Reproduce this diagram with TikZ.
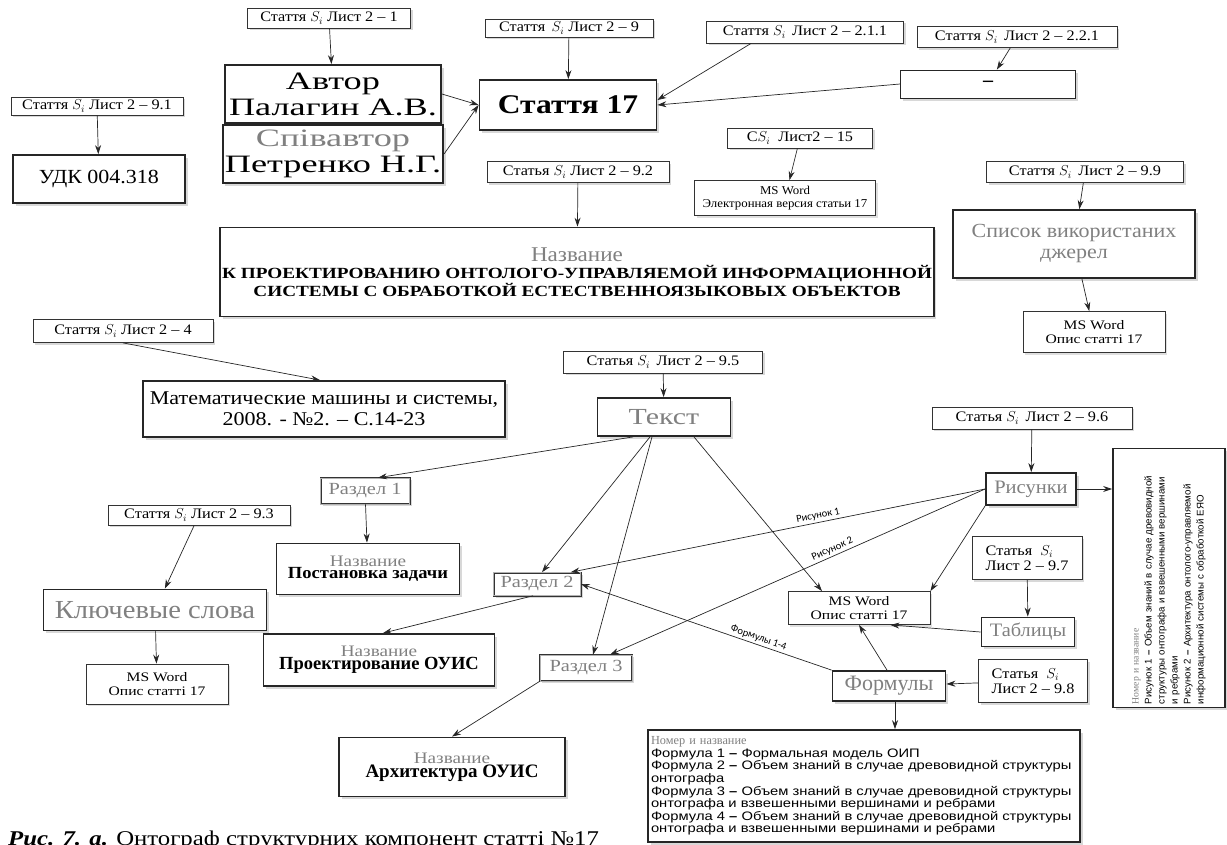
\documentclass[tikz,border=0pt]{standalone}
\usepackage{fontspec}
\setmainfont{Liberation Serif}
\newfontfamily\arialf[FakeStretch=1.2]{Liberation Sans}
\newfontfamily\arialn{Liberation Sans}
\newfontfamily\calibf{Carlito}
\usetikzlibrary{arrows.meta,shadows}
\definecolor{gtxt}{gray}{0.5}
\newcommand{\wide}[1]{\addfontfeature{FakeStretch=#1}}

\begin{document}
\begin{tikzpicture}[x=1pt,y=-1pt,
  box/.style={draw=black!85,line width=1.8pt,fill=white,inner sep=2pt,align=center,
    drop shadow={shadow xshift=2.5pt,shadow yshift=-2.5pt,fill=black!30}},
  ref/.style={draw=black!80,line width=0.8pt,fill=white,
    inner sep=1pt,align=center,font=\fontsize{14.5}{15.5}\selectfont\wide{1.12},
    drop shadow={shadow xshift=2pt,shadow yshift=-2pt,fill=black!30}},
  sect/.style={draw=black!80,line width=0.6pt,double=black!30,double distance=0.8pt,fill=white,
    text=gtxt,inner sep=1pt,font=\fontsize{17}{18}\selectfont\wide{1.2},
    drop shadow={shadow xshift=2pt,shadow yshift=-2pt,fill=black!30}},
  doc/.style={draw=black!80,line width=0.8pt,fill=white,align=center,inner sep=1pt,
    font=\fontsize{13}{14}\selectfont\wide{1.2},
    drop shadow={shadow xshift=2pt,shadow yshift=-2pt,fill=black!25}},
  con/.style={->,>={Stealth[length=9pt,width=6pt]},draw=black!85,line width=0.7pt},
  lbl/.style={font=\calibf\fontsize{10.5}{12}\selectfont,sloped,above,inner sep=2pt}]
\useasboundingbox (0,0) rectangle (1227,844);

% references
\node[ref,minimum width=163pt,minimum height=20pt] (r21) at (329,18) {Стаття $S_i$ Лист 2 -- 1};
\node[ref,minimum width=168pt,minimum height=18pt] (r29) at (569,28) {Стаття \,$S_i$ Лист 2 -- 9};
\node[ref,minimum width=197pt,minimum height=22pt] (r211) at (805,32) {Стаття $S_i$ \,Лист 2 -- 2.1.1};
\node[ref,minimum width=200pt,minimum height=21pt] (r221) at (1017,37) {Стаття $S_i$ \,Лист 2 -- 2.2.1};
\node[ref,minimum width=172pt,minimum height=18pt] (r91) at (97,106) {Стаття $S_i$ Лист 2 -- 9.1};
\node[ref,minimum width=145pt,minimum height=20pt] (r15) at (800,138) {С$S_i$ \ Лист2 -- 15};
\node[ref,minimum width=182pt,minimum height=21pt] (r92) at (578,172) {Статья $S_i$ Лист 2 -- 9.2};
\node[ref,minimum width=197pt,minimum height=21pt] (r99) at (1085,172) {Стаття $S_i$ \,Лист 2 -- 9.9};
\node[ref,minimum width=180pt,minimum height=23pt] (r24) at (123,331) {Стаття $S_i$ Лист 2 -- 4};
\node[ref,minimum width=199pt,minimum height=22pt] (r95) at (663,362) {Статья $S_i$ \,Лист 2 -- 9.5};
\node[ref,minimum width=200pt,minimum height=22pt] (r96) at (1032,418) {Статья $S_i$ \,Лист 2 -- 9.6};
\node[ref,minimum width=182pt,minimum height=20pt] (r93) at (199,515) {Стаття $S_i$ Лист 2 -- 9.3};
\node[ref,minimum width=110pt,minimum height=43pt,align=left] (r97) at (1027,558) {Статья \ $S_i$\\Лист 2 -- 9.7};
\node[ref,minimum width=109pt,minimum height=43pt,align=left] (r98) at (1033,681) {Статья \ $S_i$\\Лист 2 -- 9.8};

% main boxes
\node[box,minimum width=216pt,minimum height=58pt,font=\fontsize{25}{26}\selectfont\wide{1.45}] (avtor) at (333,94) {Автор\\Палагин А.В.};
\node[box,minimum width=216pt,minimum height=58pt,font=\fontsize{25}{26}\selectfont\wide{1.45}] (coavtor) at (333,154) {\textcolor{gtxt}{Співавтор}\\Петренко Н.Г.};
\node[box,minimum width=177pt,minimum height=50pt,font=\bfseries\fontsize{27}{28}\selectfont\wide{1.17}] (stat) at (568,105) {Стаття 17};
\node[box,line width=0.9pt,minimum width=175pt,minimum height=28pt,font=\bfseries\fontsize{20}{20}\selectfont] (dash) at (988,84) {–};
\node[box,minimum width=172pt,minimum height=48pt,font=\fontsize{20}{22}\selectfont\wide{1.1}] (udk) at (99,179) {УДК 004.318};
\node[doc,minimum width=181pt,minimum height=35pt,font=\fontsize{12}{13}\selectfont\wide{1.07}] (msel) at (785,198) {MS Word\\Электронная версия статьи 17};
\node[box,minimum width=711pt,minimum height=89pt] (title) at (577,272)
  {{\color{gtxt}\fontsize{21}{22}\selectfont\wide{1.1} Название}\\[3pt]
   {\bfseries\fontsize{15.5}{18}\selectfont\wide{1.24} К ПРОЕКТИРОВАНИЮ ОНТОЛОГО-УПРАВЛЯЕМОЙ ИНФОРМАЦИОННОЙ}\\
   {\bfseries\fontsize{15.5}{18}\selectfont\wide{1.24} СИСТЕМЫ С ОБРАБОТКОЙ ЕСТЕСТВЕННОЯЗЫКОВЫХ ОБЪЕКТОВ}};
\node[box,minimum width=242pt,minimum height=68pt,text=gtxt,font=\fontsize{20}{21}\selectfont\wide{1.1}] (spisok) at (1074,244) {Список використаних\\джерел};
\node[doc,minimum width=142pt,minimum height=41pt] (msr) at (1094,332) {MS Word\\Опис статті 17};
\node[box,minimum width=362pt,minimum height=56pt,font=\fontsize{19.5}{21}\selectfont\wide{1.13}] (matem) at (324,409) {Математические машины и системы,\\2008. - №2. -- С.14-23};
\node[box,minimum width=133pt,minimum height=38pt,text=gtxt,font=\fontsize{23}{24}\selectfont\wide{1.3}] (tekst) at (664,417) {Текст};
\node[box,minimum width=90pt,minimum height=32pt,text=gtxt,font=\fontsize{19}{20}\selectfont\wide{1.08}] (risunki) at (1031,489) {Рисунки};
\node[box,rotate=90,minimum width=259pt,minimum height=112pt,text width=252pt,align=left,inner sep=3pt,
  font=\arialn\fontsize{9.7}{13}\selectfont] (rislist) at (1169,578)
  {{\rmfamily\color{gtxt}Номер и название}\\
   Рисунок 1 \textbf{–} Объем знаний в случае древовидной\\структуры онтографа и взвешенными вершинами\\и ребрами\\
   Рисунок 2 \textbf{–} Архитектура онтолого-управляемой\\информационной системы с обработкой ЕЯО};
\node[sect,minimum width=89pt,minimum height=26pt] (razd1) at (365,491) {Раздел 1};
\node[box,minimum width=183pt,minimum height=51pt] (nazv1) at (368,569)
  {{\color{gtxt}\fontsize{16}{17}\selectfont\wide{1.2} Название}\\{\bfseries\fontsize{17}{18}\selectfont\wide{1.09} Постановка задачи}};
\node[sect,minimum width=87pt,minimum height=23pt] (razd2) at (537,584) {Раздел 2};
\node[box,minimum width=223pt,minimum height=41pt,text=gtxt,font=\fontsize{26}{27}\selectfont\wide{1.1}] (klyuch) at (155,610) {Ключевые слова};
\node[doc,minimum width=142pt,minimum height=40pt] (msl) at (157,684) {MS Word\\Опис статті 17};
\node[box,minimum width=231pt,minimum height=52pt] (nazv2) at (379,660)
  {{\color{gtxt}\fontsize{16}{17}\selectfont\wide{1.2} Название}\\{\bfseries\fontsize{18.5}{19}\selectfont Проектирование ОУИС}};
\node[sect,minimum width=92pt,minimum height=26pt] (razd3) at (586,668) {Раздел 3};
\node[box,minimum width=226pt,minimum height=59pt] (nazv3) at (452,767)
  {{\color{gtxt}\fontsize{16}{17}\selectfont\wide{1.2} Название}\\{\bfseries\fontsize{19}{20}\selectfont Архитектура ОУИС}};
\node[doc,minimum width=142pt,minimum height=33pt] (msc) at (859,608) {MS Word\\Опис статті 17};
\node[box,minimum width=93pt,minimum height=29pt,text=gtxt,font=\fontsize{19}{20}\selectfont\wide{1.07}] (tabl) at (1028,632) {Таблицы};
\node[box,minimum width=113pt,minimum height=30pt,text=gtxt,font=\fontsize{22}{23}\selectfont] (form) at (889,686) {Формулы};
\node[box,line width=1.6pt,minimum width=432pt,minimum height=112pt,text width=426pt,align=left,inner sep=3pt,
  font=\arialf\fontsize{12.3}{12.6}\selectfont] (formlist) at (864,786)
  {{\rmfamily\color{gtxt}Номер и название}\\
   Формула 1 \textbf{–} Формальная модель ОИП\\
   Формула 2 \textbf{–} Объем знаний в случае древовидной структуры\\онтографа\\
   Формула 3 \textbf{–} Объем знаний в случае древовидной структуры\\онтографа и взвешенными вершинами и ребрами\\
   Формула 4 \textbf{–} Объем знаний в случае древовидной структуры\\онтографа и взвешенными вершинами и ребрами};

\node[anchor=base west,inner sep=0pt,font=\fontsize{21}{22}\selectfont\wide{1.18}] (cap) at (8,845)
  {\textbf{\textit{Рис. 7. а.}} Онтограф структурних компонент статті №17};

% connectors
\draw[con] (r21) -- (avtor);
\draw[con] (r91) -- (udk);
\draw[con] (r29) -- (stat);
\draw[con] (avtor.east) -- (stat.west);
\draw[con] (coavtor.east) -- (stat.west);
\draw[con] ([xshift=45pt]r211.south west) -- ([yshift=5pt]stat.east);
\draw[con] (dash.west) -- (stat.east);
\draw[con] (r221) -- (dash);
\draw[con] (r15) -- (msel);
\draw[con] (r92) -- (title);
\draw[con] (r99) -- (spisok);
\draw[con] (spisok) -- (msr);
\draw[con] (r24.south) -- ([xshift=-4pt]matem.north);
\draw[con] (r95) -- (tekst);
\draw[con] ([xshift=-31pt]tekst.south) -- ([xshift=13pt]razd1.north);
\draw[con] ([xshift=-14pt]tekst.south) -- ([xshift=5pt]razd2.north);
\draw[con] ([xshift=-12pt]tekst.south) -- ([xshift=7pt]razd3.north);
\draw[con] ([xshift=30pt]tekst.south) -- ([xshift=-37pt]msc.north);
\draw[con] (razd1) -- (nazv1);
\draw[con] ([xshift=-4pt]razd2.south) -- ([xshift=4pt]nazv2.north);
\draw[con] (razd3.south west) -- (nazv3.north);
\draw[con] (risunki.west) -- ([xshift=-10pt]razd2.north east) node[lbl,pos=0.4] {Рисунок 1};
\draw[con] (risunki.west) -- ([xshift=24pt]razd3.north) node[lbl,pos=0.4] {Рисунок 2};
\draw[con] (risunki.south west) -- (msc.north east);
\draw[con] (risunki.east) -- (risunki.east -| rislist.north);
\draw[con] (r96) -- (risunki);
\draw[con] (r97) -- (tabl);
\draw[con] (tabl.west) -- ([xshift=-40pt]msc.south east);
\draw[con] ([xshift=-2pt]form.north) -- (msc.south);
\draw[con] (form.north west) -- (razd2.east) node[lbl,pos=0.3] {Формулы 1-4};
\draw[con] (r98) -- (form);
\draw[con] ([xshift=6pt]form.south) -- ([xshift=6pt]form.south |- formlist.north);
\draw[con] (r93) -- (klyuch);
\draw[con] (klyuch) -- (msl);
\end{tikzpicture}
\end{document}
